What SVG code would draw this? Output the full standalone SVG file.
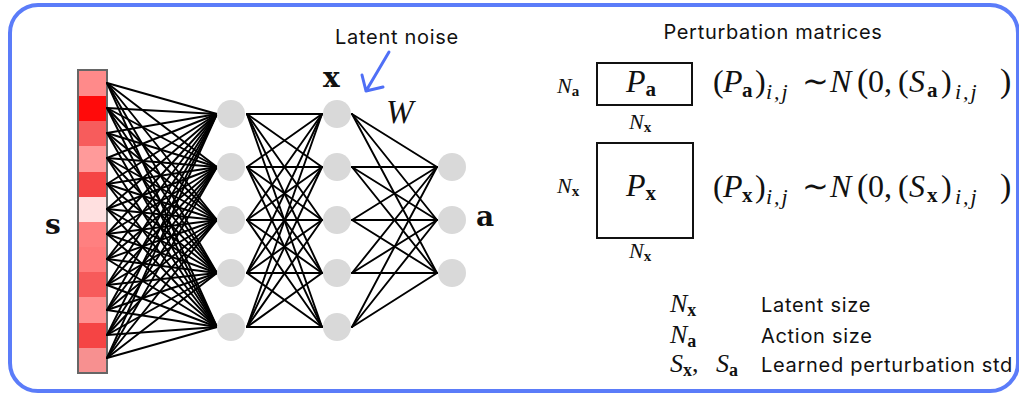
<svg xmlns="http://www.w3.org/2000/svg" width="1019" height="396" viewBox="0 0 1019 396">
<style>
.frame{fill:#fff;stroke:#5b7cf9;stroke-width:4}
.cell{stroke:none}
.bar{fill:none;stroke:#666;stroke-width:2}
.e{stroke:#000;stroke-width:1.9;stroke-linecap:round}
.n{fill:#d9d9d9}
.sans{font-family:"Inter","Liberation Sans",sans-serif;fill:#111;font-size:20px;letter-spacing:0.7px}
.m{font-family:"Liberation Serif",serif;font-style:italic;fill:#111}
.r{font-style:normal}
.bs{font-style:normal;font-weight:bold}
.big{font-family:"DejaVu Serif",serif;font-weight:bold;fill:#111}
.box{fill:none;stroke:#111;stroke-width:2}
.arrow{fill:none;stroke:#4f6ff6;stroke-width:3;stroke-linecap:round;stroke-linejoin:round}
.sub{font-size:22px;letter-spacing:2px}
</style>
<rect class="frame" x="10" y="5" width="1008" height="386" rx="28"/>

<g id="input-s">
<rect class="cell" x="78" y="70" width="29" height="26" fill="#ff8a8a"/>
<rect class="cell" x="78" y="96" width="29" height="25" fill="#ff0a0a"/>
<rect class="cell" x="78" y="121" width="29" height="25" fill="#f75c5c"/>
<rect class="cell" x="78" y="146" width="29" height="26" fill="#ff9a9a"/>
<rect class="cell" x="78" y="172" width="29" height="25" fill="#f54444"/>
<rect class="cell" x="78" y="197" width="29" height="25" fill="#ffe0e0"/>
<rect class="cell" x="78" y="222" width="29" height="25" fill="#ff8080"/>
<rect class="cell" x="78" y="247" width="29" height="25" fill="#ff7a7a"/>
<rect class="cell" x="78" y="272" width="29" height="25" fill="#f75a5a"/>
<rect class="cell" x="78" y="297" width="29" height="26" fill="#ff9090"/>
<rect class="cell" x="78" y="323" width="29" height="25" fill="#f54444"/>
<rect class="cell" x="78" y="348" width="29" height="25" fill="#f79090"/>
<rect class="bar" x="78" y="70" width="29" height="303"/>
<text class="big" x="45" y="234" font-size="28">s</text>
</g>

<g id="connectors">
<line class="e" x1="107" y1="83" x2="217" y2="114"/><line class="e" x1="107" y1="83" x2="217" y2="167"/><line class="e" x1="107" y1="83" x2="217" y2="220"/><line class="e" x1="107" y1="83" x2="217" y2="273"/><line class="e" x1="107" y1="83" x2="217" y2="327"/>
<line class="e" x1="107" y1="108" x2="217" y2="114"/><line class="e" x1="107" y1="108" x2="217" y2="167"/><line class="e" x1="107" y1="108" x2="217" y2="220"/><line class="e" x1="107" y1="108" x2="217" y2="273"/><line class="e" x1="107" y1="108" x2="217" y2="327"/>
<line class="e" x1="107" y1="133" x2="217" y2="114"/><line class="e" x1="107" y1="133" x2="217" y2="167"/><line class="e" x1="107" y1="133" x2="217" y2="220"/><line class="e" x1="107" y1="133" x2="217" y2="273"/><line class="e" x1="107" y1="133" x2="217" y2="327"/>
<line class="e" x1="107" y1="158" x2="217" y2="114"/><line class="e" x1="107" y1="158" x2="217" y2="167"/><line class="e" x1="107" y1="158" x2="217" y2="220"/><line class="e" x1="107" y1="158" x2="217" y2="273"/><line class="e" x1="107" y1="158" x2="217" y2="327"/>
<line class="e" x1="107" y1="184" x2="217" y2="114"/><line class="e" x1="107" y1="184" x2="217" y2="167"/><line class="e" x1="107" y1="184" x2="217" y2="220"/><line class="e" x1="107" y1="184" x2="217" y2="273"/><line class="e" x1="107" y1="184" x2="217" y2="327"/>
<line class="e" x1="107" y1="209" x2="217" y2="114"/><line class="e" x1="107" y1="209" x2="217" y2="167"/><line class="e" x1="107" y1="209" x2="217" y2="220"/><line class="e" x1="107" y1="209" x2="217" y2="273"/><line class="e" x1="107" y1="209" x2="217" y2="327"/>
<line class="e" x1="107" y1="234" x2="217" y2="114"/><line class="e" x1="107" y1="234" x2="217" y2="167"/><line class="e" x1="107" y1="234" x2="217" y2="220"/><line class="e" x1="107" y1="234" x2="217" y2="273"/><line class="e" x1="107" y1="234" x2="217" y2="327"/>
<line class="e" x1="107" y1="259" x2="217" y2="114"/><line class="e" x1="107" y1="259" x2="217" y2="167"/><line class="e" x1="107" y1="259" x2="217" y2="220"/><line class="e" x1="107" y1="259" x2="217" y2="273"/><line class="e" x1="107" y1="259" x2="217" y2="327"/>
<line class="e" x1="107" y1="285" x2="217" y2="114"/><line class="e" x1="107" y1="285" x2="217" y2="167"/><line class="e" x1="107" y1="285" x2="217" y2="220"/><line class="e" x1="107" y1="285" x2="217" y2="273"/><line class="e" x1="107" y1="285" x2="217" y2="327"/>
<line class="e" x1="107" y1="310" x2="217" y2="114"/><line class="e" x1="107" y1="310" x2="217" y2="167"/><line class="e" x1="107" y1="310" x2="217" y2="220"/><line class="e" x1="107" y1="310" x2="217" y2="273"/><line class="e" x1="107" y1="310" x2="217" y2="327"/>
<line class="e" x1="107" y1="335" x2="217" y2="114"/><line class="e" x1="107" y1="335" x2="217" y2="167"/><line class="e" x1="107" y1="335" x2="217" y2="220"/><line class="e" x1="107" y1="335" x2="217" y2="273"/><line class="e" x1="107" y1="335" x2="217" y2="327"/>
<line class="e" x1="107" y1="358" x2="217" y2="114"/><line class="e" x1="107" y1="358" x2="217" y2="167"/><line class="e" x1="107" y1="358" x2="217" y2="220"/><line class="e" x1="107" y1="358" x2="217" y2="273"/><line class="e" x1="107" y1="358" x2="217" y2="327"/>

<line class="e" x1="247" y1="114" x2="322" y2="114"/><line class="e" x1="247" y1="114" x2="322" y2="167"/><line class="e" x1="247" y1="114" x2="322" y2="220"/><line class="e" x1="247" y1="114" x2="322" y2="273"/><line class="e" x1="247" y1="114" x2="322" y2="327"/>
<line class="e" x1="247" y1="167" x2="322" y2="114"/><line class="e" x1="247" y1="167" x2="322" y2="167"/><line class="e" x1="247" y1="167" x2="322" y2="220"/><line class="e" x1="247" y1="167" x2="322" y2="273"/><line class="e" x1="247" y1="167" x2="322" y2="327"/>
<line class="e" x1="247" y1="220" x2="322" y2="114"/><line class="e" x1="247" y1="220" x2="322" y2="167"/><line class="e" x1="247" y1="220" x2="322" y2="220"/><line class="e" x1="247" y1="220" x2="322" y2="273"/><line class="e" x1="247" y1="220" x2="322" y2="327"/>
<line class="e" x1="247" y1="273" x2="322" y2="114"/><line class="e" x1="247" y1="273" x2="322" y2="167"/><line class="e" x1="247" y1="273" x2="322" y2="220"/><line class="e" x1="247" y1="273" x2="322" y2="273"/><line class="e" x1="247" y1="273" x2="322" y2="327"/>
<line class="e" x1="247" y1="327" x2="322" y2="114"/><line class="e" x1="247" y1="327" x2="322" y2="167"/><line class="e" x1="247" y1="327" x2="322" y2="220"/><line class="e" x1="247" y1="327" x2="322" y2="273"/><line class="e" x1="247" y1="327" x2="322" y2="327"/>

<line class="e" x1="352" y1="114" x2="437" y2="167"/><line class="e" x1="352" y1="114" x2="437" y2="220"/><line class="e" x1="352" y1="114" x2="437" y2="273"/>
<line class="e" x1="352" y1="167" x2="437" y2="167"/><line class="e" x1="352" y1="167" x2="437" y2="220"/><line class="e" x1="352" y1="167" x2="437" y2="273"/>
<line class="e" x1="352" y1="220" x2="437" y2="167"/><line class="e" x1="352" y1="220" x2="437" y2="220"/><line class="e" x1="352" y1="220" x2="437" y2="273"/>
<line class="e" x1="352" y1="273" x2="437" y2="167"/><line class="e" x1="352" y1="273" x2="437" y2="220"/><line class="e" x1="352" y1="273" x2="437" y2="273"/>
<line class="e" x1="352" y1="327" x2="437" y2="167"/><line class="e" x1="352" y1="327" x2="437" y2="220"/><line class="e" x1="352" y1="327" x2="437" y2="273"/>
</g>

<g id="hidden-1">
<circle class="n" cx="231" cy="114" r="14"/><circle class="n" cx="231" cy="167" r="14"/><circle class="n" cx="231" cy="220" r="14"/><circle class="n" cx="231" cy="273" r="14"/><circle class="n" cx="231" cy="327" r="14"/>
</g>
<g id="latent-x">
<circle class="n" cx="337" cy="114" r="14"/><circle class="n" cx="337" cy="167" r="14"/><circle class="n" cx="337" cy="220" r="14"/><circle class="n" cx="337" cy="273" r="14"/><circle class="n" cx="337" cy="327" r="14"/>
<text class="big" x="323" y="87" font-size="28">x</text>
</g>
<g id="output-a">
<circle class="n" cx="452" cy="167" r="14"/><circle class="n" cx="452" cy="220" r="14"/><circle class="n" cx="452" cy="273" r="14"/>
<text class="big" x="476" y="226" font-size="28">a</text>
</g>
<text class="m" x="386" y="123" font-size="33">W</text>

<g id="latent-noise">
<text class="sans" x="397" y="44" text-anchor="middle">Latent noise</text>
<path class="arrow" d="M389 52L366 91M362 75L366 91L383 87"/>
</g>

<g id="perturbation">
<text class="sans" x="773" y="39" text-anchor="middle">Perturbation matrices</text>
</g>

<g id="matrix-Pa">
<rect class="box" x="597" y="63" width="95" height="42"/>
<text class="m" x="626" y="92" font-size="32">P<tspan class="bs" font-size="21" dy="4">a</tspan></text>
<text class="m" x="557" y="93" font-size="22">N<tspan class="bs" font-size="15" dy="3">a</tspan></text>
<text class="m" x="629" y="129" font-size="22">N<tspan class="bs" font-size="15" dy="3">x</tspan></text>
<text class="m" y="92" font-size="32"><tspan class="r" x="713">(</tspan><tspan x="723">P</tspan><tspan class="bs" font-size="21" x="742" dy="5">a</tspan><tspan class="r" x="755" dy="-5">)</tspan><tspan class="sub" x="766" dy="7">i,j</tspan><tspan class="r" x="802" dy="-7">∼</tspan><tspan x="830">N</tspan><tspan class="r" x="857" font-size="34">(</tspan><tspan class="r" x="868">0,</tspan><tspan class="r" x="898">(</tspan><tspan x="909">S</tspan><tspan class="bs" font-size="21" x="927" dy="5">a</tspan><tspan class="r" x="941" dy="-5">)</tspan><tspan class="sub" x="955" dy="7">i,j</tspan><tspan class="r" x="1000" dy="-7" font-size="34">)</tspan></text>
</g>

<g id="matrix-Px">
<rect class="box" x="597" y="143" width="96" height="95"/>
<text class="m" x="626" y="196" font-size="32">P<tspan class="bs" font-size="21" dy="4">x</tspan></text>
<text class="m" x="557" y="193" font-size="22">N<tspan class="bs" font-size="15" dy="3">x</tspan></text>
<text class="m" x="629" y="258" font-size="22">N<tspan class="bs" font-size="15" dy="3">x</tspan></text>
<text class="m" y="197" font-size="32"><tspan class="r" x="713">(</tspan><tspan x="723">P</tspan><tspan class="bs" font-size="21" x="742" dy="5">x</tspan><tspan class="r" x="755" dy="-5">)</tspan><tspan class="sub" x="766" dy="7">i,j</tspan><tspan class="r" x="802" dy="-7">∼</tspan><tspan x="830">N</tspan><tspan class="r" x="857" font-size="34">(</tspan><tspan class="r" x="868">0,</tspan><tspan class="r" x="898">(</tspan><tspan x="909">S</tspan><tspan class="bs" font-size="21" x="927" dy="5">x</tspan><tspan class="r" x="941" dy="-5">)</tspan><tspan class="sub" x="955" dy="7">i,j</tspan><tspan class="r" x="1000" dy="-7" font-size="34">)</tspan></text>
</g>

<g id="legend">
<text class="m" x="670" y="312" font-size="26">N<tspan class="bs" font-size="18" dy="4">x</tspan></text>
<text class="sans" x="761" y="312">Latent size</text>
<text class="m" x="670" y="343" font-size="26">N<tspan class="bs" font-size="18" dy="4">a</tspan></text>
<text class="sans" x="761" y="343">Action size</text>
<text class="m" y="372" font-size="26"><tspan x="670">S</tspan><tspan class="bs" font-size="18" dy="4">x</tspan><tspan class="r" dy="-4">,</tspan><tspan x="716">S</tspan><tspan class="bs" font-size="18" dy="4">a</tspan></text>
<text class="sans" x="761" y="372">Learned perturbation std</text>
</g>
</svg>
